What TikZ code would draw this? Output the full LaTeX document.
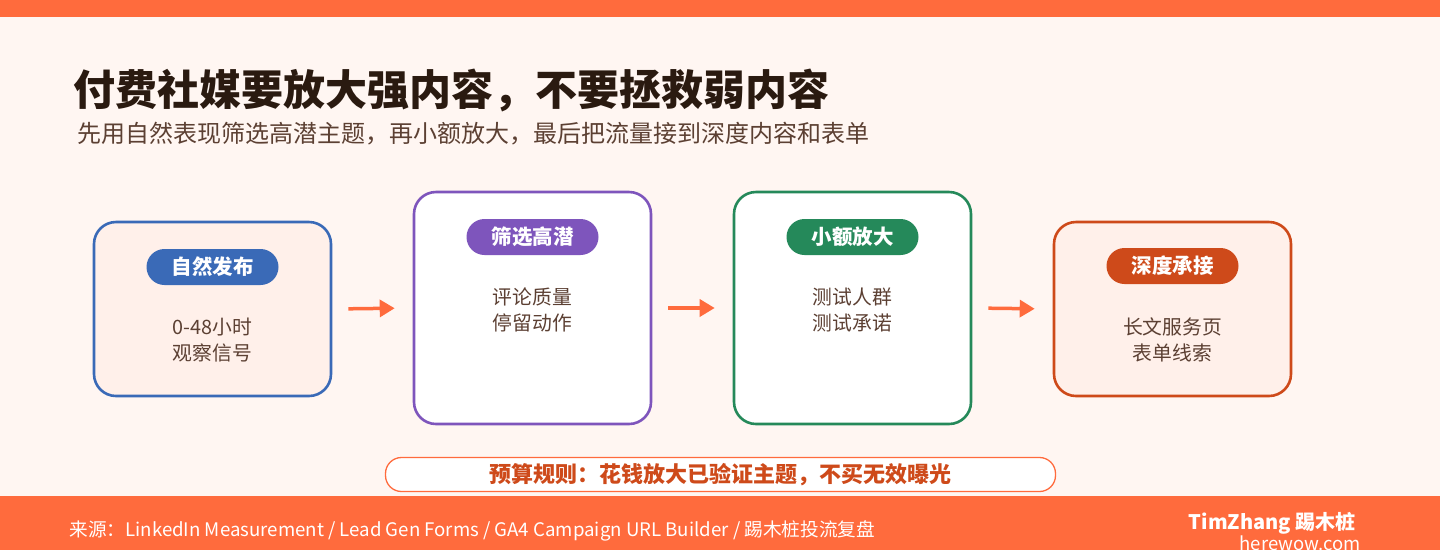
\documentclass[tikz,border=0pt]{standalone}
\usepackage{fontspec}
\setmainfont{Noto Sans CJK SC}
\usetikzlibrary{arrows.meta}
\definecolor{bgc}{HTML}{FFF6F2}
\definecolor{orng}{HTML}{FF6B3D}
\definecolor{titlec}{HTML}{2A1A10}
\definecolor{bodyc}{HTML}{5C4033}
\definecolor{bluec}{HTML}{3A6AB7}
\definecolor{purpc}{HTML}{7E55BC}
\definecolor{greenc}{HTML}{25895A}
\definecolor{redc}{HTML}{CE4A1A}
\definecolor{softfill}{HTML}{FFF0EA}
\tikzset{
  card/.style={draw=#1, line width=2.6pt, rounded corners=22pt, minimum width=237pt, inner sep=0pt},
  pill/.style={fill=#1, rounded corners=18pt, minimum width=132pt, minimum height=36pt, inner sep=0pt,
    text=white, font=\fontsize{20.5}{22}\selectfont\bfseries},
  body/.style={text=bodyc, align=center, font=\fontsize{19.8}{26}\selectfont},
  arr/.style={draw=orng, line width=3.5pt, -{Triangle[length=15pt,width=17pt]}, shorten <=16pt, shorten >=18pt},
}
\begin{document}
\begin{tikzpicture}[x=1pt,y=-1pt]
\useasboundingbox (0,0) rectangle (1440,550);
\fill[bgc] (0,0) rectangle (1440,550);
\fill[orng] (0,0) rectangle (1440,17);
\fill[orng] (0,496) rectangle (1440,550);

\node[anchor=west, text=titlec, font=\fontsize{42}{46}\selectfont\bfseries] (title) at (70,90) {付费社媒要放大强内容，不要拯救弱内容};
\node[anchor=west, text=bodyc, font=\fontsize{24}{26}\selectfont] (sub) at (74,134) {先用自然表现筛选高潜主题，再小额放大，最后把流量接到深度内容和表单};

% cards
\node[card=bluec, fill=softfill, minimum height=174pt] (b1) at (212.5,309) {};
\node[card=purpc, fill=white, minimum height=232pt] (b2) at (532.5,308) {};
\node[card=greenc, fill=white, minimum height=232pt] (b3) at (852.5,308) {};
\node[card=redc, fill=softfill, minimum height=174pt] (b4) at (1172.5,309) {};

\node[pill=bluec] (p1) at (212.5,267) {自然发布};
\node[pill=purpc] (p2) at (532.5,237) {筛选高潜};
\node[pill=greenc] (p3) at (852.5,237) {小额放大};
\node[pill=redc] (p4) at (1172.5,266) {深度承接};

\node[body] (t1) at (212.5,340) {0-48小时\\观察信号};
\node[body] (t2) at (532.5,310) {评论质量\\停留动作};
\node[body] (t3) at (852.5,310) {测试人群\\测试承诺};
\node[body] (t4) at (1172.5,340) {长文服务页\\表单线索};

\draw[arr] (b1.east) -- (b2.west);
\draw[arr] (b2.east) -- (b3.west);
\draw[arr] (b3.east) -- (b4.west);

% rule
\node[draw=orng, line width=1.3pt, fill=white, rounded corners=16pt, minimum width=670pt, minimum height=34pt,
  text=redc, font=\fontsize{22}{24}\selectfont\bfseries] (rule) at (720.5,474.5) {预算规则：花钱放大已验证主题，不买无效曝光};

% footer
\node[anchor=west, text=white, font=\fontsize{18.65}{20}\selectfont] (src) at (66,531) {来源：LinkedIn Measurement / Lead Gen Forms / GA4 Campaign URL Builder / 踢木桩投流复盘};
\node[anchor=east, text=white, font=\fontsize{20}{20}\selectfont\bfseries] (brand) at (1359,523) {TimZhang 踢木桩};
\node[anchor=east, text=white, font=\fontsize{18.5}{20}\selectfont] (site) at (1364,543) {herewow.com};
\end{tikzpicture}
\end{document}
